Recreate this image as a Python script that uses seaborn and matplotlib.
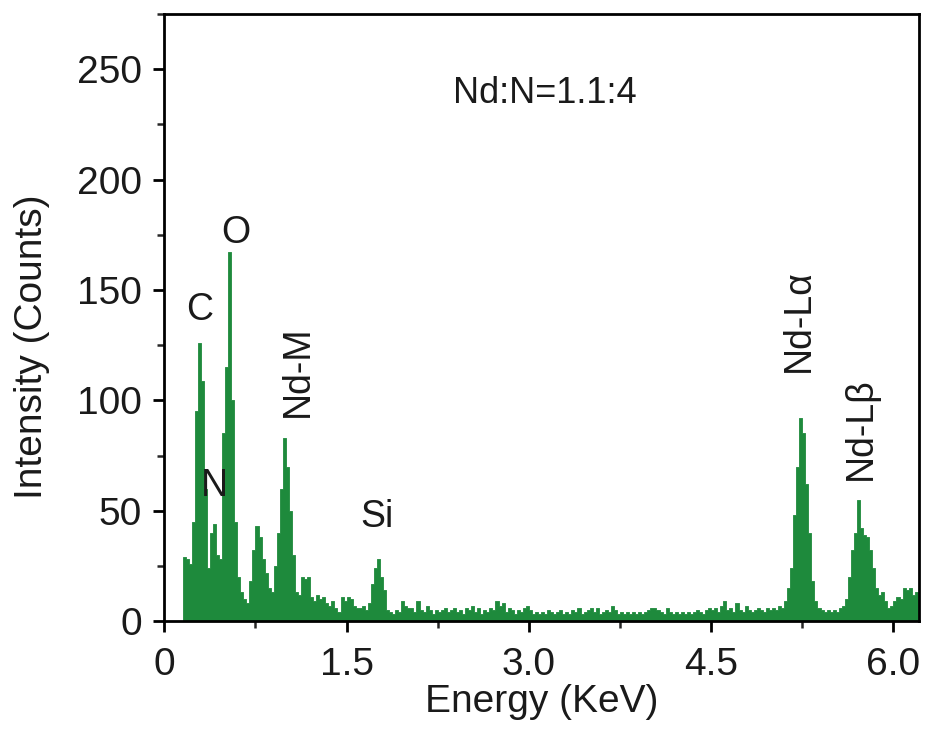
import numpy as np
import pandas as pd
import matplotlib
matplotlib.use("Agg")
import matplotlib.pyplot as plt
from matplotlib.ticker import MultipleLocator
import seaborn as sns

# ---------------- data ----------------
start_kev = 0.15
bin_kev = 0.025
counts_low = [29, 28, 26, 45, 95, 126, 109, 60, 24, 40, 44, 30, 28, 85, 115,
              167, 100, 45, 20, 13, 10, 8, 18, 32, 43, 38, 28, 22, 15, 13,
              25, 40, 60, 83, 70, 50, 30, 13, 12, 20, 19, 20, 11, 9, 12, 10,
              11, 8, 7, 9, 6, 4, 11, 9]
counts_si = [11, 10, 7, 6, 6, 7, 5, 8, 17, 24, 28, 20, 14, 5, 4, 3, 5, 4, 9,
             7, 6, 6, 4, 9, 5, 4, 7, 5, 3, 5, 4]
counts_mid = [5, 6, 4, 5, 6, 4, 5, 3, 6, 5, 7, 4, 6, 3, 5, 4, 6, 5, 9, 7, 8,
              4, 6, 5, 3, 5, 4, 6, 7, 5, 3, 4, 3, 4, 3, 5, 4, 3, 4, 5, 3, 4,
              3, 5, 4, 6, 3, 4, 5, 6, 4, 6, 3, 4, 5, 4, 7, 5, 3, 4, 3, 4, 3,
              4, 3, 4, 3, 4, 5, 6, 6, 5, 4, 3, 6, 4, 3, 4, 3, 4, 3, 4, 3, 4,
              5, 4, 3, 5, 6, 5, 6, 4, 7, 9, 5, 6, 4, 8, 5, 4, 7, 5, 4, 5, 6,
              5, 4, 6, 5, 6]
counts_nd = [5, 7, 6, 9, 15, 24, 48, 70, 92, 85, 62, 40, 18, 9, 6, 5, 4, 5, 4,
             5, 4, 6, 7, 10, 20, 32, 40, 55, 42, 39, 38, 32, 24, 15, 12, 13,
             9, 6, 7, 9, 11, 10, 15, 14, 15, 12, 13]
counts = counts_low + counts_si + counts_mid + counts_nd
n_bins = len(counts)
energy = start_kev + bin_kev * (np.arange(n_bins) + 0.5)
df = pd.DataFrame({"Energy": energy, "Counts": counts})

x_ticks = [0, 1.5, 3.0, 4.5, 6.0]
x_ticklabels = ["0", "1.5", "3.0", "4.5", "6.0"]
y_ticks = [0, 50, 100, 150, 200, 250]

peak_labels = [("C", 0.29, 141, 0), ("O", 0.59, 176, 0), ("N", 0.41, 61, 0),
               ("Nd-M", 1.10, 113, 90), ("Si", 1.75, 47, 0),
               ("Nd-Lα", 5.22, 136, 90), ("Nd-Lβ", 5.73, 87, 90)]
ratio_text = "Nd:N=1.1:4"

# ---------------- style ----------------
sns.set_style("ticks")
plt.rcParams["font.family"] = ["Liberation Sans", "DejaVu Sans"]
green = "#1e8a3c"
ink = "#1a1a1a"

fig = plt.figure(figsize=(9.38, 7.29), dpi=100)
ax = fig.add_axes([0.1752, 0.148, 0.8045, 0.8327])

sns.histplot(data=df, x="Energy", weights="Counts", bins=n_bins,
             binrange=(start_kev, start_kev + bin_kev * n_bins),
             element="step", fill=True, color=green, alpha=1.0,
             linewidth=0.6, edgecolor=green, ax=ax)

ax.set_xlim(0, 6.21)
ax.set_ylim(0, 275)
ax.set_xticks(x_ticks)
ax.set_xticklabels(x_ticklabels)
ax.set_yticks(y_ticks)
ax.xaxis.set_minor_locator(MultipleLocator(0.75))
ax.yaxis.set_minor_locator(MultipleLocator(25))

ax.set_xlabel("Energy (KeV)", fontsize=28, color=ink)
ax.set_ylabel("Intensity (Counts)", fontsize=28, color=ink)
ax.xaxis.set_label_coords(0.5, -0.104)
ax.yaxis.set_label_coords(-0.152, 0.452)
ax.tick_params(axis="both", which="major", labelsize=28, length=8, width=2.0,
               direction="out", color="black", labelcolor=ink, pad=8)
ax.tick_params(axis="x", which="major", pad=11)
ax.tick_params(axis="both", which="minor", length=5, width=1.8, direction="out")
for side in ["left", "right", "top", "bottom"]:
    ax.spines[side].set_visible(True)
    ax.spines[side].set_linewidth(2.0)
    ax.spines[side].set_color("black")

for txt, x, y, rot in peak_labels:
    ax.text(x, y, txt, fontsize=27, rotation=rot, ha="center", va="center",
            color=ink)
ax.text(3.13, 239, ratio_text, fontsize=26, ha="center", va="center",
        color=ink)

fig.savefig("out.png", dpi=100)
